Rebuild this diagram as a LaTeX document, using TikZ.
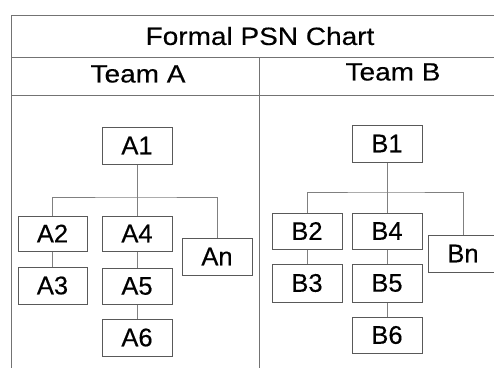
\documentclass[tikz,border=0pt]{standalone}
\usepackage{fontspec}
\setmainfont{Liberation Sans}[FakeBold=0.35]
\newfontfamily\headfont{Liberation Sans}[FakeStretch=1.12,FakeBold=0.35]
\begin{document}
\begin{tikzpicture}[x=1pt,y=-1pt,
  framel/.style={draw=black!55,line width=1pt},
  conn/.style={draw=black!50,line width=1pt},
  orgbox/.style={draw=black!65,line width=1pt,fill=white,minimum width=70pt,minimum height=36pt,inner sep=0pt,
    font=\fontsize{25.5}{28}\selectfont},
  headtxt/.style={inner sep=0pt,font=\headfont\fontsize{25}{28}\selectfont}]
\useasboundingbox (0,0) rectangle (494,367);
% frame
\coordinate (tl) at (11.5,15.5);
\coordinate (tr) at (500,15.5);
\coordinate (r1l) at (11.5,57);
\coordinate (r1r) at (500,57);
\coordinate (r2l) at (11.5,95);
\coordinate (r2r) at (500,95);
\coordinate (bl) at (11.5,370);
\coordinate (dt) at (259,57);
\coordinate (db) at (259,370);
\draw[framel] (tr) -- (tl) -- (bl);
\draw[framel] (r1l) -- (r1r);
\draw[framel] (r2l) -- (r2r);
\draw[framel] (dt) -- (db);
\node[headtxt] (title) at (260,36) {Formal PSN Chart};
\node[headtxt] (ta) at (138,74) {Team A};
\node[headtxt] (tb) at (393,72) {Team B};
% Team A
\node[orgbox,minimum height=37pt] (a1) at (137,145.5) {A1};
\node[orgbox,minimum width=69pt,minimum height=35pt] (a2) at (52.5,233.5) {A2};
\node[orgbox,minimum height=35pt] (a4) at (137,233.5) {A4};
\node[orgbox,minimum height=37pt] (an) at (217,256.5) {An};
\node[orgbox,minimum width=69pt,minimum height=37pt] (a3) at (52.5,285.5) {A3};
\node[orgbox] (a5) at (137,286) {A5};
\node[orgbox,minimum height=37pt] (a6) at (137,337.5) {A6};
\coordinate (abus) at (137,197);
\draw[conn] (a1) -- (a4);
\draw[conn] (a2.north) |- (abus) -| (an.north);
\draw[conn] (a2) -- (a3);
\draw[conn] (a4) -- (a5);
\draw[conn] (a5) -- (a6);
% Team B
\node[orgbox,minimum height=37pt] (b1) at (387,143.5) {B1};
\node[orgbox] (b2) at (307,231) {B2};
\node[orgbox] (b4) at (387,231) {B4};
\node[orgbox,minimum height=37pt] (bn) at (463,253.5) {Bn};
\node[orgbox,minimum height=38pt] (b3) at (307,283) {B3};
\node[orgbox,minimum height=38pt] (b5) at (387,283) {B5};
\node[orgbox] (b6) at (387,335) {B6};
\coordinate (bbus) at (387,192);
\draw[conn] (b1) -- (b4);
\draw[conn] (b2.north) |- (bbus) -| (bn.north);
\draw[conn] (b2) -- (b3);
\draw[conn] (b4) -- (b5);
\draw[conn] (b5) -- (b6);
\end{tikzpicture}
\end{document}
